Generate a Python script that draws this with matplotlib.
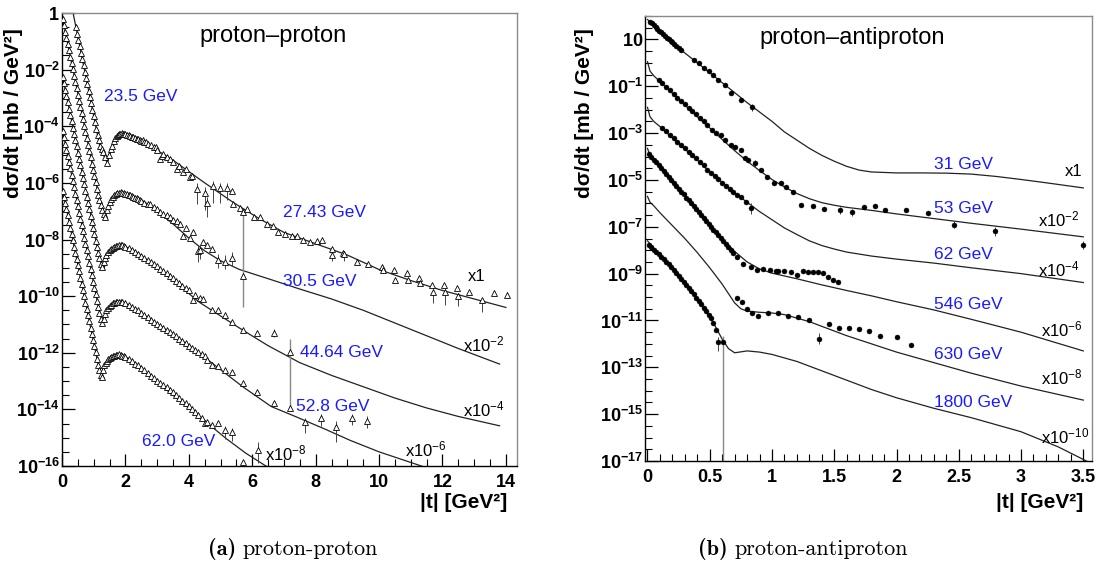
import numpy as np
import matplotlib
matplotlib.use("Agg")
import matplotlib.pyplot as plt
from matplotlib.ticker import FixedLocator, NullFormatter, FixedFormatter

plt.rcParams['font.family'] = ['Liberation Sans', 'DejaVu Sans']
plt.rcParams['mathtext.fontset'] = 'custom'
plt.rcParams['mathtext.rm'] = 'Liberation Sans'
plt.rcParams['mathtext.bf'] = 'Liberation Sans:bold'
plt.rcParams['mathtext.it'] = 'Liberation Sans:italic'
plt.rcParams['mathtext.default'] = 'regular'

# ---------------- proton-proton (left) : log10 of dsigma/dt (already scaled) ----------------
# model curves
c235_t = [0.3, 0.6, 0.9, 1.2, 1.32, 1.43, 1.55, 1.7, 1.9, 2.2, 2.6, 3.0, 3.5, 4.0, 4.5, 5.4, 6.2, 7.0, 8.0, 9.0, 10.0, 11.0, 12.0, 13.0, 14.0]
c235_y = [0.28, -1.4, -3.08, -4.76, -5.05, -5.29, -4.85, -4.5, -4.3, -4.32, -4.52, -4.85, -5.2, -5.6, -6.0, -6.69, -7.25, -7.75, -8.15, -8.55, -9.06, -9.45, -9.8, -10.1, -10.4]
c305_t = [0.0, 0.3, 0.6, 0.9, 1.2, 1.3, 1.36, 1.45, 1.6, 1.83, 2.1, 2.5, 2.8, 3.5, 4.0, 4.5, 5.0, 5.6, 6.6, 7.5, 8.5, 9.5, 10.5, 11.5, 12.5, 13.8]
c305_y = [-0.1, -1.75, -3.4, -5.05, -6.7, -7.05, -7.22, -6.85, -6.55, -6.34, -6.4, -6.6, -6.83, -7.45, -7.95, -8.4, -8.75, -9.06, -9.42, -9.75, -10.1, -10.5, -10.95, -11.4, -11.85, -12.4]
c4464_t = [0.0, 0.3, 0.6, 0.9, 1.15, 1.25, 1.33, 1.42, 1.6, 1.9, 2.2, 2.8, 3.5, 4.35, 5.0, 5.7, 6.5, 7.5, 8.5, 9.5, 10.5, 11.5, 12.5, 13.8]
c4464_y = [-2.16, -3.8, -5.45, -7.1, -8.5, -8.9, -9.0, -8.65, -8.35, -8.21, -8.35, -8.8, -9.45, -10.23, -10.7, -11.2, -11.75, -12.35, -12.8, -13.2, -13.6, -13.95, -14.25, -14.58]
c528_t = [0.0, 0.3, 0.6, 0.9, 1.15, 1.22, 1.3, 1.4, 1.55, 1.8, 2.1, 2.8, 3.5, 4.0, 4.6, 5.7, 6.6, 7.4, 8.3, 9.1, 10.0, 10.8, 11.6]
c528_y = [-4.05, -5.7, -7.35, -9.0, -10.4, -10.7, -10.94, -10.55, -10.3, -10.2, -10.3, -10.83, -11.35, -11.75, -12.25, -13.2, -13.9, -14.27, -14.7, -15.1, -15.5, -15.8, -16.1]
c620_t = [0.0, 0.3, 0.6, 0.9, 1.1, 1.18, 1.26, 1.35, 1.5, 1.8, 2.1, 2.8, 3.5, 4.0, 4.6, 5.2, 5.8, 6.5]
c620_y = [-6.16, -7.8, -9.45, -11.1, -12.2, -12.55, -12.85, -12.5, -12.25, -12.07, -12.2, -12.85, -13.5, -13.95, -14.5, -15.05, -15.55, -16.05]

# measured points
d235_t = [0.44, 0.48, 0.52, 0.56, 0.6, 0.64, 0.68, 0.72, 0.76, 0.8, 0.84, 0.88, 0.92, 0.96, 1.0, 1.04, 1.08, 1.12, 1.16, 1.2, 1.25, 1.3, 1.36, 1.43,
          1.48, 1.53, 1.58, 1.63, 1.67, 1.72, 1.76, 1.8, 1.84, 1.88, 1.92, 1.96, 2.0, 2.05, 2.1, 2.15, 2.2, 2.25, 2.3, 2.35, 2.4, 2.45, 2.5, 2.55,
          2.6, 2.65, 2.7, 2.8, 2.9, 2.95, 3.0, 3.09, 3.15, 3.2, 3.3, 3.4, 3.5, 3.63, 3.7, 3.82, 3.9, 4.04, 4.1, 4.26, 4.5, 4.57, 4.77, 4.98, 5.2, 5.36]
d235_y = [-0.5, -0.73, -0.95, -1.18, -1.4, -1.62, -1.85, -2.07, -2.3, -2.52, -2.74, -2.97, -3.19, -3.42, -3.64, -3.86, -4.09, -4.31, -4.5, -4.68, -4.8, -4.9, -5.1, -5.29,
          -5.0, -4.8, -4.68, -4.52, -4.42, -4.36, -4.31, -4.28, -4.26, -4.25, -4.27, -4.26, -4.29, -4.3, -4.32, -4.33, -4.37, -4.38, -4.41, -4.45, -4.44, -4.48, -4.52, -4.5,
          -4.57, -4.55, -4.62, -4.66, -4.75, -4.72, -4.85, -5.17, -5.05, -4.98, -5.08, -5.15, -5.25, -5.52, -5.4, -5.63, -5.5, -5.81, -5.75, -6.2, -6.34, -6.7, -6.12, -6.17, -6.17, -6.3]
d2743_t = [5.39, 5.62, 5.72, 5.83, 6.04, 6.25, 6.47, 6.66, 6.82, 7.03, 7.26, 7.41, 7.6, 7.82, 8.03, 8.2, 8.5, 8.52, 8.87, 8.9, 9.3, 9.65, 10.1, 10.12,
           10.47, 10.49, 10.88, 10.9, 11.26, 11.28, 11.67, 11.69, 12.05, 12.07, 12.46, 12.48, 12.84, 13.25, 13.63, 14.03]
d2743_y = [-6.76, -6.87, -7.04, -6.94, -7.22, -7.22, -7.47, -7.54, -7.72, -7.82, -7.89, -7.86, -8.0, -8.1, -8.07, -8.02, -8.35, -8.53, -8.46, -8.5, -8.81, -8.88, -8.96, -9.06,
           -9.06, -9.42, -9.17, -9.42, -9.35, -9.52, -9.59, -9.84, -9.59, -9.84, -9.73, -10.0, -9.84, -10.12, -9.88, -9.95]
d305_t = [0.02, 0.06, 0.1, 0.14, 0.18, 0.22, 0.26, 0.3, 0.34, 0.38, 0.42, 0.46, 0.5, 0.54, 0.58, 0.62, 0.66, 0.7, 0.74, 0.78, 0.82, 0.86, 0.9, 0.94, 0.98,
          1.02, 1.06, 1.1, 1.14, 1.18, 1.22, 1.27, 1.32, 1.36, 1.42, 1.46, 1.5, 1.55, 1.6, 1.65, 1.7, 1.75, 1.8, 1.85, 1.9, 1.95, 2.0, 2.05, 2.1, 2.15,
          2.2, 2.25, 2.3, 2.35, 2.4, 2.45, 2.5, 2.6, 2.7, 2.78, 2.9, 2.99, 3.1, 3.2, 3.3, 3.41, 3.5, 3.63, 3.72, 3.82, 3.9, 4.04, 4.13, 4.29, 4.35, 4.45,
          4.57, 4.73, 4.92, 5.14, 5.36, 5.72]
d305_y = [-0.21, -0.43, -0.66, -0.88, -1.1, -1.32, -1.54, -1.77, -1.99, -2.21, -2.43, -2.65, -2.88, -3.1, -3.32, -3.54, -3.76, -3.99, -4.21, -4.43, -4.65, -4.87, -5.1, -5.32, -5.54,
          -5.76, -5.98, -6.21, -6.42, -6.6, -6.78, -6.95, -7.1, -7.2, -6.95, -6.8, -6.68, -6.58, -6.5, -6.44, -6.4, -6.36, -6.34, -6.33, -6.34, -6.36, -6.38, -6.4, -6.42, -6.44,
          -6.47, -6.5, -6.52, -6.55, -6.58, -6.6, -6.64, -6.7, -6.74, -6.76, -6.86, -6.94, -7.02, -7.1, -7.12, -7.19, -7.3, -7.36, -7.45, -7.89, -7.6, -7.93, -7.75, -8.42, -8.36, -8.1,
          -8.18, -8.35, -8.71, -8.78, -8.64, -9.3]
d4464_t = [0.02, 0.06, 0.1, 0.14, 0.18, 0.22, 0.26, 0.3, 0.34, 0.38, 0.42, 0.46, 0.5, 0.54, 0.58, 0.62, 0.66, 0.7, 0.74, 0.78, 0.82, 0.86, 0.9, 0.94, 0.98,
           1.02, 1.06, 1.1, 1.14, 1.18, 1.22, 1.26, 1.32, 1.36, 1.4, 1.45, 1.5, 1.55, 1.6, 1.65, 1.7, 1.75, 1.8, 1.85, 1.9, 1.95, 2.0, 2.1, 2.2, 2.3, 2.4,
           2.5, 2.6, 2.7, 2.8, 2.9, 3.0, 3.1, 3.2, 3.3, 3.4, 3.5, 3.6, 3.7, 3.8, 3.9, 4.0, 4.13, 4.2, 4.35, 4.45, 4.73, 4.92, 5.14, 5.36, 5.7, 6.15, 6.69, 7.2]
d4464_y = [-2.27, -2.49, -2.72, -2.94, -3.16, -3.38, -3.6, -3.83, -4.05, -4.27, -4.49, -4.71, -4.94, -5.16, -5.38, -5.6, -5.82, -6.05, -6.27, -6.49, -6.71, -6.93, -7.16, -7.38, -7.6,
           -7.82, -8.04, -8.27, -8.48, -8.65, -8.85, -8.98, -8.8, -8.65, -8.55, -8.45, -8.38, -8.33, -8.3, -8.26, -8.24, -8.22, -8.21, -8.2, -8.21, -8.23, -8.25, -8.3, -8.36, -8.43, -8.5,
           -8.57, -8.64, -8.72, -8.8, -8.88, -8.95, -9.03, -9.12, -9.2, -9.28, -9.37, -9.46, -9.55, -9.63, -9.72, -9.8, -10.12, -9.95, -10.05, -10.1, -10.48, -10.48, -10.65, -10.9, -11.19, -11.29, -11.29, -11.96]
d528_t = [0.02, 0.06, 0.1, 0.14, 0.18, 0.22, 0.26, 0.3, 0.34, 0.38, 0.42, 0.46, 0.5, 0.54, 0.58, 0.62, 0.66, 0.7, 0.74, 0.78, 0.82, 0.86, 0.9, 0.94, 0.98,
          1.02, 1.06, 1.1, 1.14, 1.18, 1.22, 1.27, 1.32, 1.36, 1.4, 1.45, 1.5, 1.55, 1.6, 1.65, 1.7, 1.75, 1.8, 1.85, 1.9, 2.0, 2.1, 2.2, 2.3, 2.4, 2.5,
          2.6, 2.7, 2.8, 2.9, 3.0, 3.1, 3.2, 3.3, 3.4, 3.5, 3.6, 3.7, 3.8, 3.9, 4.0, 4.1, 4.2, 4.3, 4.4, 4.5, 4.57, 4.73, 4.92, 5.14, 5.36, 5.7, 6.15,
          6.69, 7.19, 7.67, 8.17, 8.64, 9.15, 9.62]
d528_y = [-4.16, -4.38, -4.61, -4.83, -5.05, -5.27, -5.49, -5.72, -5.94, -6.16, -6.38, -6.6, -6.83, -7.05, -7.27, -7.49, -7.71, -7.94, -8.16, -8.38, -8.6, -8.82, -9.05, -9.27, -9.49,
          -9.71, -9.93, -10.16, -10.38, -10.6, -10.8, -10.94, -10.8, -10.62, -10.5, -10.42, -10.35, -10.3, -10.26, -10.24, -10.22, -10.2, -10.2, -10.21, -10.22, -10.26, -10.3, -10.37, -10.44, -10.5, -10.58,
          -10.65, -10.73, -10.83, -10.9, -10.98, -11.05, -11.13, -11.2, -11.28, -11.35, -11.42, -11.5, -11.58, -11.66, -11.75, -11.82, -11.9, -11.98, -12.05, -12.12, -12.25, -12.42, -12.48, -12.6, -12.67, -13.06, -13.38,
          -13.77, -13.95, -14.45, -14.3, -14.62, -14.3, -14.4]
d620_t = [0.02, 0.06, 0.1, 0.14, 0.18, 0.22, 0.26, 0.3, 0.34, 0.38, 0.42, 0.46, 0.5, 0.54, 0.58, 0.62, 0.66, 0.7, 0.74, 0.78, 0.82, 0.86, 0.9, 0.94, 0.98,
          1.02, 1.06, 1.1, 1.14, 1.18, 1.22, 1.26, 1.3, 1.34, 1.38, 1.42, 1.46, 1.5, 1.55, 1.6, 1.65, 1.7, 1.75, 1.8, 1.85, 1.9, 1.95, 2.0, 2.1, 2.2, 2.3,
          2.4, 2.5, 2.6, 2.7, 2.8, 2.9, 3.0, 3.1, 3.2, 3.3, 3.4, 3.5, 3.6, 3.7, 3.8, 3.9, 4.0, 4.1, 4.2, 4.3, 4.4, 4.51, 4.57, 4.73, 4.92, 5.14, 5.36, 5.71, 6.18]
d620_y = [-6.27, -6.49, -6.71, -6.93, -7.15, -7.37, -7.59, -7.81, -8.03, -8.25, -8.47, -8.69, -8.91, -9.13, -9.35, -9.57, -9.79, -10.01, -10.23, -10.45, -10.67, -10.89, -11.11, -11.33, -11.55,
          -11.77, -11.99, -12.21, -12.45, -12.62, -12.78, -12.85, -12.6, -12.45, -12.35, -12.28, -12.22, -12.18, -12.15, -12.12, -12.1, -12.08, -12.07, -12.05, -12.08, -12.1, -12.13, -12.16, -12.22, -12.3, -12.38,
          -12.45, -12.55, -12.62, -12.7, -12.82, -12.9, -13.0, -13.08, -13.15, -13.22, -13.3, -13.4, -13.5, -13.6, -13.7, -13.78, -13.88, -14.0, -14.1, -14.2, -14.3, -14.48, -14.44, -14.55, -14.48, -14.73, -14.8, -15.86, -15.43]
# error bars (t, log10 low, log10 high)
pp_err = [(4.26, -6.75, -6.0), (4.5, -6.95, -6.15), (4.57, -7.2, -6.5), (4.77, -6.7, -5.95), (4.98, -6.7, -6.0), (5.2, -6.6, -6.0),
          (8.52, -8.75, -8.4), (8.9, -8.75, -8.4), (11.69, -10.25, -9.75), (12.07, -10.3, -9.75), (12.48, -10.35, -9.9), (13.25, -10.55, -10.05),
          (13.63, -10.0, -9.8), (14.03, -10.05, -9.85),
          (4.29, -8.8, -8.2), (4.35, -8.7, -8.2), (4.92, -9.0, -8.5), (5.14, -9.05, -8.55), (5.36, -8.95, -8.45),
          (6.69, -11.45, -11.15), (7.67, -14.85, -14.3), (8.17, -14.6, -14.15), (8.64, -15.15, -14.4), (9.15, -14.55, -14.15), (9.62, -14.65, -14.25),
          (5.14, -15.05, -14.6), (5.36, -15.1, -14.65), (6.18, -15.9, -15.15)]
pp_longerr = [(5.72, -10.4, -6.95), (7.2, -14.0, -11.5)]

# ---------------- proton-antiproton (right) ----------------
k31_t = [0.0, 0.1, 0.2, 0.3, 0.4, 0.5, 0.6, 0.7, 0.8, 0.9, 1.0, 1.1, 1.2, 1.3, 1.4, 1.5, 1.6, 1.7, 1.8, 2.0, 2.2, 2.4, 2.6, 2.8, 3.0, 3.2, 3.5]
k31_y = [1.85, 1.35, 0.88, 0.42, 0.0, -0.42, -0.85, -1.27, -1.7, -2.1, -2.5, -2.95, -3.3, -3.65, -3.95, -4.2, -4.42, -4.58, -4.66, -4.7, -4.7, -4.71, -4.75, -4.85, -4.98, -5.12, -5.34]
k53_t = [0.0, 0.02, 0.05, 0.1, 0.2, 0.3, 0.4, 0.5, 0.6, 0.7, 0.8, 0.9, 1.0, 1.1, 1.2, 1.3, 1.4, 1.5, 1.6, 1.8, 2.0, 2.3, 2.6, 3.0, 3.5]
k53_y = [0.05, -0.35, -0.55, -0.8, -1.3, -1.8, -2.3, -2.78, -3.27, -3.75, -4.2, -4.6, -4.98, -5.3, -5.58, -5.8, -5.97, -6.08, -6.17, -6.3, -6.45, -6.65, -6.85, -7.1, -7.43]
k62_t = [0.0, 0.02, 0.05, 0.1, 0.2, 0.3, 0.4, 0.5, 0.6, 0.7, 0.8, 0.9, 1.0, 1.1, 1.2, 1.3, 1.4, 1.5, 1.6, 1.8, 2.0, 2.3, 2.6, 3.0, 3.5]
k62_y = [-1.9, -2.3, -2.5, -2.72, -3.2, -3.68, -4.15, -4.65, -5.1, -5.55, -5.95, -6.35, -6.7, -7.05, -7.33, -7.6, -7.8, -7.95, -8.08, -8.25, -8.38, -8.55, -8.75, -9.0, -9.38]
k546_t = [0.0, 0.02, 0.05, 0.1, 0.2, 0.3, 0.4, 0.5, 0.6, 0.7, 0.8, 0.9, 1.0, 1.1, 1.2, 1.3, 1.4, 1.5, 1.6, 1.8, 2.0, 2.3, 2.6, 3.0, 3.5]
k546_y = [-3.65, -3.95, -4.1, -4.4, -5.05, -5.68, -6.3, -6.9, -7.5, -8.05, -8.5, -8.8, -8.98, -9.1, -9.22, -9.35, -9.48, -9.6, -9.72, -9.95, -10.2, -10.55, -10.95, -11.5, -12.3]
k630_t = [0.0, 0.02, 0.05, 0.1, 0.2, 0.3, 0.4, 0.5, 0.6, 0.65, 0.7, 0.75, 0.8, 0.9, 1.0, 1.1, 1.2, 1.3, 1.4, 1.5, 1.6, 1.8, 2.0, 2.3, 2.6, 3.0, 3.5]
k630_y = [-5.7, -5.95, -6.1, -6.4, -6.95, -7.5, -8.1, -8.75, -9.45, -9.85, -10.25, -10.5, -10.6, -10.65, -10.68, -10.75, -10.9, -11.05, -11.25, -11.45, -11.65, -12.0, -12.35, -12.8, -13.25, -13.8, -14.4]
k1800_t = [0.0, 0.1, 0.2, 0.3, 0.4, 0.5, 0.55, 0.6, 0.65, 0.7, 0.8, 0.9, 1.0, 1.2, 1.4, 1.6, 1.8, 2.0, 2.3, 2.6, 3.0, 3.3, 3.6]
k1800_y = [-7.6, -8.2, -8.75, -9.4, -10.1, -10.85, -11.3, -11.8, -12.2, -12.38, -12.3, -12.35, -12.45, -12.75, -13.15, -13.55, -13.95, -14.3, -14.75, -15.15, -15.75, -16.4, -17.2]

p31_t = [0.02, 0.035, 0.05, 0.065, 0.08, 0.095, 0.11, 0.125, 0.14, 0.155, 0.17, 0.185, 0.2, 0.215, 0.23, 0.25, 0.27, 0.37, 0.41, 0.45, 0.49, 0.53, 0.57, 0.62, 0.67, 0.75, 0.84]
p31_y = [1.76, 1.68, 1.6, 1.53, 1.46, 1.38, 1.3, 1.23, 1.16, 1.08, 1.0, 0.95, 0.88, 0.8, 0.74, 0.64, 0.55, 0.12, -0.02, -0.2, -0.35, -0.5, -0.72, -0.95, -1.3, -1.57, -1.9]
p53_t = [0.09, 0.12, 0.15, 0.18, 0.21, 0.24, 0.27, 0.3, 0.33, 0.36, 0.39, 0.42, 0.45, 0.48, 0.52, 0.55, 0.59, 0.62, 0.67, 0.7, 0.75, 0.78, 0.81, 0.86,
         0.91, 0.96, 1.02, 1.07, 1.11, 1.17, 1.23, 1.33, 1.42, 1.55, 1.64, 1.74, 1.83, 1.91, 2.08, 2.25, 2.46, 2.79, 3.5]
p53_y = [-0.74, -0.88, -1.03, -1.18, -1.33, -1.48, -1.62, -1.77, -1.92, -2.06, -2.2, -2.35, -2.5, -2.66, -2.87, -3.0, -3.09, -3.3, -3.51, -3.6, -3.72, -4.06, -4.15, -4.28,
         -4.57, -4.87, -5.13, -5.13, -5.3, -5.51, -6.06, -6.1, -6.23, -6.28, -6.36, -6.15, -6.1, -6.28, -6.28, -6.4, -6.91, -7.2, -7.77]
p62_t = [0.12, 0.15, 0.18, 0.21, 0.24, 0.27, 0.3, 0.33, 0.36, 0.39, 0.42, 0.45, 0.48, 0.51, 0.54, 0.57, 0.6, 0.63, 0.66, 0.69, 0.72, 0.75, 0.79, 0.83]
p62_y = [-2.8, -2.93, -3.07, -3.2, -3.36, -3.5, -3.64, -3.79, -3.93, -4.08, -4.23, -4.38, -4.57, -4.69, -4.83, -4.98, -5.12, -5.24, -5.38, -5.52, -5.63, -5.72, -5.95, -6.19]
p546_t = [0.01, 0.03, 0.05, 0.07, 0.09, 0.11, 0.13, 0.15, 0.17, 0.19, 0.21, 0.23, 0.25, 0.27, 0.29, 0.31, 0.33, 0.35, 0.37, 0.39, 0.41, 0.43, 0.45, 0.47,
          0.49, 0.51, 0.53, 0.55, 0.57, 0.59, 0.61, 0.63, 0.65, 0.67, 0.69, 0.72, 0.77, 0.83, 0.88, 0.93, 0.98, 1.03, 1.05, 1.1, 1.15, 1.2, 1.25, 1.29,
          1.33, 1.37, 1.41, 1.45, 1.49, 1.53]
p546_y = [-3.9, -4.0, -4.13, -4.25, -4.38, -4.5, -4.62, -4.75, -4.87, -5.0, -5.12, -5.25, -5.37, -5.5, -5.62, -5.75, -5.87, -6.0, -6.12, -6.24, -6.37, -6.49, -6.62, -6.74,
          -6.87, -6.99, -7.12, -7.24, -7.37, -7.49, -7.62, -7.74, -7.87, -7.99, -8.12, -8.3, -8.6, -8.72, -8.83, -8.82, -8.85, -8.88, -8.9, -8.89, -8.92, -9.04, -8.9, -8.93,
          -8.95, -8.93, -8.96, -9.13, -9.26, -9.34]
p630_t = [0.72, 0.76, 0.8, 0.84, 0.89, 0.97, 1.05, 1.13, 1.21, 1.3, 1.38, 1.46, 1.54, 1.62, 1.7, 1.78, 1.87, 2.0, 2.12]
p630_y = [-10.02, -10.23, -10.53, -10.7, -10.79, -10.7, -10.66, -10.79, -10.87, -11.0, -11.77, -11.17, -11.3, -11.3, -11.38, -11.47, -11.68, -11.72, -12.06]
p1800_t = [0.01, 0.03, 0.05, 0.07, 0.09, 0.11, 0.13, 0.15, 0.17, 0.19, 0.21, 0.23, 0.25, 0.27, 0.29, 0.31, 0.33, 0.35, 0.37, 0.39, 0.41, 0.43, 0.45, 0.47,
           0.49, 0.51, 0.53, 0.55, 0.57, 0.61]
p1800_y = [-7.77, -7.87, -7.97, -8.07, -8.17, -8.28, -8.39, -8.5, -8.61, -8.72, -8.84, -8.96, -9.08, -9.21, -9.34, -9.47, -9.6, -9.74, -9.88, -10.02, -10.16, -10.3, -10.45, -10.6,
           -10.75, -10.9, -11.1, -11.4, -11.94, -11.94]
pb_err = [(0.84, -2.05, -1.75), (0.86, -4.45, -4.15), (1.55, -6.45, -6.15), (1.64, -6.55, -6.25), (2.46, -7.05, -6.75), (2.79, -7.4, -7.0),
          (3.5, -7.95, -7.6), (0.83, -6.45, -6.0), (1.38, -12.0, -11.55), (0.57, -12.3, -11.7)]
pb_longerr = [(0.61, -17.5, -11.65)]

pp_labels = [("23.5 GeV", 1.33, -2.94), ("27.43 GeV", 6.97, -7.04), ("30.5 GeV", 6.97, -9.49),
             ("44.64 GeV", 7.51, -12.0), ("52.8 GeV", 7.38, -13.91), ("62.0 GeV", 2.52, -15.15)]
pp_scales = [("x1", 12.8, -9.31), ("x10$^{-2}$", 12.65, -11.72), ("x10$^{-4}$", 12.65, -14.02),
             ("x10$^{-6}$", 10.82, -15.43), ("x10$^{-8}$", 6.4, -15.54)]
pb_labels = [("31 GeV", 2.30, -4.36), ("53 GeV", 2.30, -6.23), ("62 GeV", 2.30, -8.19),
             ("546 GeV", 2.30, -10.32), ("630 GeV", 2.30, -12.45), ("1800 GeV", 2.30, -14.49)]
pb_scales = [("x1", 3.35, -4.66), ("x10$^{-2}$", 3.14, -6.7), ("x10$^{-4}$", 3.14, -8.83),
             ("x10$^{-6}$", 3.16, -11.38), ("x10$^{-8}$", 3.16, -13.43), ("x10$^{-10}$", 3.16, -15.94)]

W, H = 1099, 571
fig = plt.figure(figsize=(W / 100, H / 100), dpi=100)

def box(x0, y0, x1, y1):
    return [x0 / W, 1 - y1 / H, (x1 - x0) / W, (y1 - y0) / H]

axL = fig.add_axes(box(62, 13, 517, 466))
axR = fig.add_axes(box(645, 16, 1092, 461))

def p10(a):
    return 10.0 ** np.asarray(a)

curve_kw = dict(color='#222222', lw=0.9, zorder=2)
tri_kw = dict(ls='none', marker='^', ms=4.2, mfc='white', mec='black', mew=0.6, zorder=3)
dot_kw = dict(ls='none', marker='o', ms=3.6, mfc='black', mec='black', mew=0.3, zorder=3)

for t, y in [(c235_t, c235_y), (c305_t, c305_y), (c4464_t, c4464_y), (c528_t, c528_y), (c620_t, c620_y)]:
    axL.plot(t, p10(y), **curve_kw)
for t, y in [(d235_t, d235_y), (d2743_t, d2743_y), (d305_t, d305_y), (d4464_t, d4464_y), (d528_t, d528_y), (d620_t, d620_y)]:
    axL.plot(t, p10(y), **tri_kw)
for t, lo, hi in pp_err:
    axL.vlines(t, 10 ** lo, 10 ** hi, color='#444444', lw=0.7, zorder=2)
for t, lo, hi in pp_longerr:
    axL.vlines(t, 10 ** lo, 10 ** hi, color='#888888', lw=1.0, zorder=2)

for t, y in [(k31_t, k31_y), (k53_t, k53_y), (k62_t, k62_y), (k546_t, k546_y), (k630_t, k630_y), (k1800_t, k1800_y)]:
    axR.plot(t, p10(y), **curve_kw)
for t, y in [(p31_t, p31_y), (p53_t, p53_y), (p62_t, p62_y), (p546_t, p546_y), (p630_t, p630_y), (p1800_t, p1800_y)]:
    axR.plot(t, p10(y), **dot_kw)
for t, lo, hi in pb_err:
    axR.vlines(t, 10 ** lo, 10 ** hi, color='#444444', lw=0.7, zorder=2)
for t, lo, hi in pb_longerr:
    axR.vlines(t, 10 ** lo, 10 ** hi, color='#888888', lw=1.0, zorder=2)

blue = '#1a1aff'
for s, t, y in pp_labels:
    axL.text(t, 10 ** y, s, color=blue, fontsize=12.5, ha='left', va='center', zorder=5)
for s, t, y in pp_scales:
    axL.text(t, 10 ** y, s, color='black', fontsize=12, ha='left', va='center', zorder=5)
for s, t, y in pb_labels:
    axR.text(t, 10 ** y, s, color=blue, fontsize=12.5, ha='left', va='center', zorder=5)
for s, t, y in pb_scales:
    axR.text(t, 10 ** y, s, color='black', fontsize=12, ha='left', va='center', zorder=5)

axL.text(6.66, 10 ** -0.81, "proton\u2013proton", fontsize=17, ha='center', va='center')
axR.text(1.64, 10 ** 1.04, "proton\u2013antiproton", fontsize=17, ha='center', va='center')

# axes styling
axL.set_yscale('log'); axR.set_yscale('log')
axL.set_xlim(0, 14.35); axL.set_ylim(1e-16, 1)
axR.set_xlim(-0.02, 3.57); axR.set_ylim(1e-17, 1e2)

def exp_label(e):
    if e == 0:
        return r'$\mathbf{1}$'
    if e == 1:
        return r'$\mathbf{10}$'
    return r'$\mathbf{10^{%d}}$' % e

eL = list(range(0, -17, -2))
axL.yaxis.set_major_locator(FixedLocator([10.0 ** e for e in eL]))
axL.yaxis.set_major_formatter(FixedFormatter([exp_label(e) for e in eL]))
axL.yaxis.set_minor_locator(FixedLocator([10.0 ** (e / 2) for e in range(-32, 1) if e % 4 != 0]))
axL.yaxis.set_minor_formatter(NullFormatter())
axL.xaxis.set_major_locator(FixedLocator(range(0, 15, 2)))
axL.xaxis.set_minor_locator(FixedLocator(np.arange(0, 14.4, 0.5)))

eR = list(range(1, -18, -2))
axR.yaxis.set_major_locator(FixedLocator([10.0 ** e for e in eR]))
axR.yaxis.set_major_formatter(FixedFormatter([exp_label(e) for e in eR]))
axR.yaxis.set_minor_locator(FixedLocator([10.0 ** (e / 2) for e in range(-34, 5) if e % 4 != 2]))
axR.yaxis.set_minor_formatter(NullFormatter())
axR.xaxis.set_major_locator(FixedLocator([0, 0.5, 1, 1.5, 2, 2.5, 3, 3.5]))
axR.xaxis.set_major_formatter(FixedFormatter(['0', '0.5', '1', '1.5', '2', '2.5', '3', '3.5']))
axR.xaxis.set_minor_locator(FixedLocator(np.arange(0, 3.56, 0.1)))

for ax in (axL, axR):
    ax.tick_params(which='both', direction='in', top=False, right=False)
    ax.tick_params(which='major', length=9, width=0.9, labelsize=13)
    ax.tick_params(which='minor', length=5, width=0.8)
    for lab in ax.get_xticklabels():
        lab.set_fontweight('bold')
    ax.tick_params(axis='x', pad=6)
    ax.tick_params(axis='y', pad=1.5)
    ax.spines['top'].set_color('#8a8a8a'); ax.spines['right'].set_color('#8a8a8a')
    ax.spines['left'].set_color('black'); ax.spines['bottom'].set_color('black')
    for sp in ax.spines.values():
        sp.set_linewidth(1.0)

fig.text(14 / W, 1 - 28 / H, "d\u03c3/dt [mb / GeV\u00b2]", rotation=90, ha='center', va='top', fontsize=15, fontweight='bold')
fig.text(584 / W, 1 - 28 / H, "d\u03c3/dt [mb / GeV\u00b2]", rotation=90, ha='center', va='top', fontsize=15, fontweight='bold')
fig.text(507 / W, 1 - 503 / H, "|t| [GeV\u00b2]", ha='right', va='center', fontsize=15, fontweight='bold')
fig.text(1083 / W, 1 - 503 / H, "|t| [GeV\u00b2]", ha='right', va='center', fontsize=15, fontweight='bold')

fig.text(236 / W, 1 - 549 / H, "(a)", ha='right', va='center', fontsize=16, family='cmb10')
fig.text(242 / W, 1 - 549 / H, "proton-proton", ha='left', va='center', fontsize=16, family='cmr10')
fig.text(728 / W, 1 - 549 / H, "(b)", ha='right', va='center', fontsize=16, family='cmb10')
fig.text(734 / W, 1 - 549 / H, "proton-antiproton", ha='left', va='center', fontsize=16, family='cmr10')

fig.savefig("out.png", dpi=100)
